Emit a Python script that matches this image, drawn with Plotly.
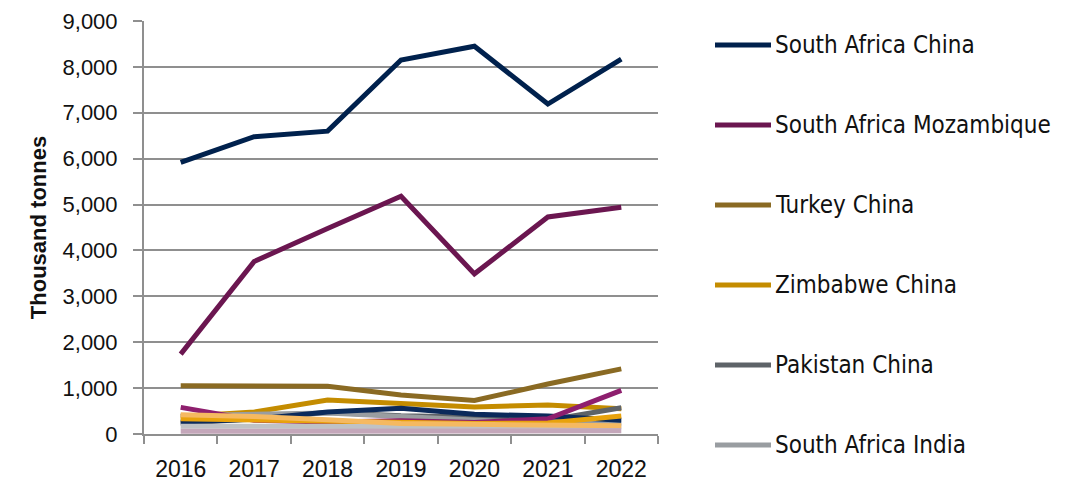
import plotly.graph_objects as go

years = ["2016", "2017", "2018", "2019", "2020", "2021", "2022"]

# labelled routes (shown in legend)
sa_china = [5920, 6480, 6600, 8150, 8450, 7190, 8170]
sa_mozambique = [1740, 3760, 4480, 5180, 3490, 4730, 4940]
turkey_china = [1050, 1050, 1040, 850, 730, 1090, 1420]
zimbabwe_china = [380, 480, 740, 660, 590, 630, 550]
pakistan_china = [230, 330, 470, 400, 370, 300, 570]
sa_india = [400, 420, 460, 380, 300, 230, 240]

# smaller routes (legend cut off in the source chart)
other_navy = [260, 320, 480, 560, 430, 390, 300]
other_magenta = [580, 300, 260, 290, 250, 330, 950]
other_gold = [330, 300, 280, 250, 230, 240, 390]
other_orange = [420, 380, 310, 230, 210, 190, 180]
other_grey = [170, 170, 180, 170, 160, 150, 160]
other_pink = [60, 60, 70, 70, 60, 60, 70]

TICK_FONT = dict(family="Liberation Sans, Arial, sans-serif", size=23, color="#111111")
LEG_FONT = dict(family="Liberation Sans Narrow, Arial Narrow, DejaVu Sans Condensed, sans-serif",
                size=24, color="#111111")
GRID = "#8f8f8f"

series = [
    ("South Africa China", sa_china, "#00214d", True),
    ("South Africa Mozambique", sa_mozambique, "#6b1650", True),
    ("Turkey China", turkey_china, "#8a6a23", True),
    ("Zimbabwe China", zimbabwe_china, "#c48c00", True),
    ("Pakistan China", pakistan_china, "#5e6368", True),
    ("South Africa India", sa_india, "#999da1", True),
    ("Other 1", other_navy, "#0b2a5b", False),
    ("Other 2", other_magenta, "#8e1f6e", False),
    ("Other 3", other_gold, "#e8a20c", False),
    ("Other 4", other_grey, "#bfc2c5", False),
    ("Other 5", other_orange, "#f5b961", False),
    ("Other 6", other_pink, "#c4a7ba", False),
]

fig = go.Figure()
for name, vals, color, show in series:
    fig.add_trace(go.Scatter(
        x=years, y=vals, name=name, mode="lines",
        line=dict(color=color, width=5), showlegend=False,
    ))

# page body adds a small offset, so pull everything up/left a bit
# (top kept a few px lower so the 9,000 label is not clipped)
DX, DY = 6, 7
L, R, T, B = 142 - DX, 425 + DX, 13, 49 + DY
pw, ph = 1081 - L - R, 482 - T - B
y0_px = 482 - B + DY  # page pixel of the 0 line

# hand-drawn legend on the right (long line keys, wide spacing like the source)
shown = [s for s in series if s[3]]
for i, (name, _, color, _) in enumerate(shown):
    yp = (y0_px - (44 + 80 * i)) / ph
    fig.add_shape(type="line", xref="paper", yref="paper",
                  x0=(713 - 142) / pw, x1=(769 - 142) / pw, y0=yp, y1=yp,
                  line=dict(color=color, width=5))
    fig.add_annotation(text=name, xref="paper", yref="paper",
                       x=(771 - 142) / pw, y=yp, xanchor="left", yanchor="middle",
                       showarrow=False, font=LEG_FONT)

fig.update_layout(
    width=1081, height=482,
    paper_bgcolor="white", plot_bgcolor="white",
    margin=dict(l=L, r=R, t=T, b=B, autoexpand=False),
    font=TICK_FONT, showlegend=False,
)

fig.update_xaxes(
    type="category", range=[-0.5, 6.5],
    tickson="boundaries", ticks="outside", ticklen=8, tickwidth=2, tickcolor=GRID,
    showline=True, linecolor=GRID, linewidth=2, showgrid=False,
    tickfont=TICK_FONT, ticklabelstandoff=13,
)
fig.update_yaxes(
    range=[0, 9000], dtick=1000, tickformat=",",
    ticks="outside", ticklen=9, tickwidth=2, tickcolor=GRID,
    showline=True, linecolor=GRID, linewidth=2,
    showgrid=True, gridcolor=GRID, gridwidth=1.5,
    zeroline=False, tickfont={**TICK_FONT, "size": 22}, ticklabelstandoff=11,
    ticklabeloverflow="allow",
    title=dict(text="<b>Thousand tonnes</b>", standoff=10,
               font=dict(family="Liberation Sans, Arial, sans-serif", size=22, color="#111111")),
)

fig.write_html("out.html")
